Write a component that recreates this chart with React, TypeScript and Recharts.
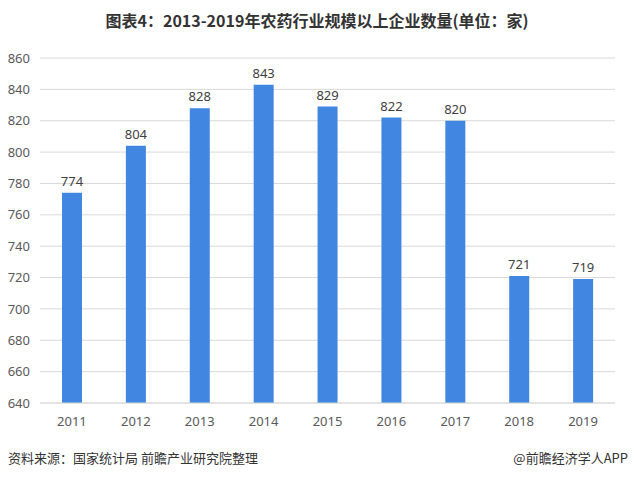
import React from "react";
import { BarChart, Bar, XAxis, YAxis, CartesianGrid, LabelList } from "recharts";

const years = ["2011", "2012", "2013", "2014", "2015", "2016", "2017", "2018", "2019"];
const counts = [774, 804, 828, 843, 829, 822, 820, 721, 719];
const yTicks = [640, 660, 680, 700, 720, 740, 760, 780, 800, 820, 840, 860];

const data = years.map((y, i) => ({ year: y, value: counts[i] }));

const FONT = '"Noto Sans", "Noto Sans CJK SC", sans-serif';

export default function App() {
  return (
    <div style={{ position: "absolute", left: 0, top: 0, width: 634, height: 479, background: "#fff", fontFamily: FONT }}>
      <div
        style={{
          position: "absolute",
          top: 8,
          left: 0,
          width: 634,
          textAlign: "center",
          fontFamily: '"Noto Sans CJK SC", sans-serif',
          fontWeight: 700,
          fontSize: 16,
          color: "#333",
          lineHeight: "24px",
        }}
      >
        图表4：2013-2019年农药行业规模以上企业数量(单位：家)
      </div>
      <div style={{ position: "absolute", left: 0, top: 0 }}>
        <BarChart
          width={634}
          height={479}
          data={data}
          margin={{ top: 58, right: 19, left: 10, bottom: 46 }}
        >
          <CartesianGrid vertical={false} stroke="#d9d9d9" />
          <XAxis
            dataKey="year"
            axisLine={{ stroke: "#d9d9d9" }}
            tickLine={false}
            height={30}
            tick={{ fill: "#595959", fontSize: 13, fontFamily: FONT }}
            tickMargin={8}
          />
          <YAxis
            domain={[640, 860]}
            ticks={yTicks}
            axisLine={false}
            tickLine={false}
            width={30}
            interval={0}
            tick={{ fill: "#595959", fontSize: 13, fontFamily: FONT, textAnchor: "end" }}
            tickMargin={4}
          />
          <Bar dataKey="value" fill="#4186e0" barSize={20} isAnimationActive={false}>
            <LabelList dataKey="value" position="top" offset={7} fill="#404040" fontSize={13} fontFamily={FONT} />
          </Bar>
        </BarChart>
      </div>
      <div
        style={{
          position: "absolute",
          left: 8,
          top: 449,
          fontFamily: '"Noto Sans CJK SC", sans-serif',
          fontSize: 13,
          color: "#333",
          lineHeight: "18px",
        }}
      >
        资料来源：国家统计局 前瞻产业研究院整理
      </div>
      <div
        style={{
          position: "absolute",
          right: 6,
          top: 449,
          fontFamily: '"Noto Sans CJK SC", sans-serif',
          fontSize: 13,
          color: "#333",
          lineHeight: "18px",
        }}
      >
        @前瞻经济学人APP
      </div>
    </div>
  );
}
